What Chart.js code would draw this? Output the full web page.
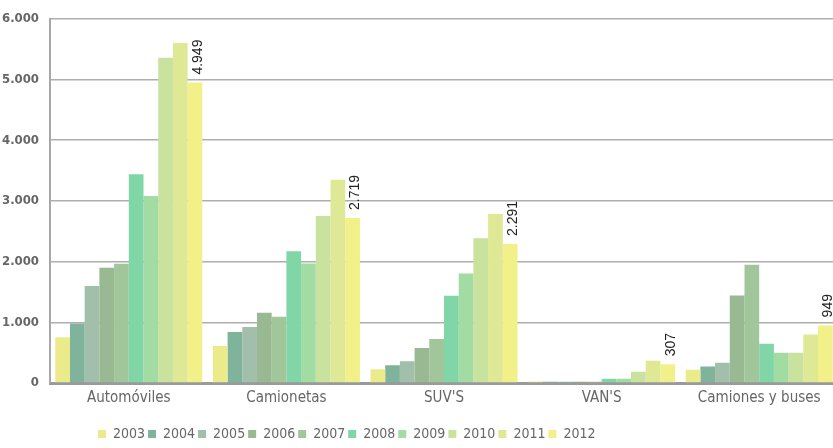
<!DOCTYPE html>
<html>
<head>
<meta charset="utf-8">
<script src="https://cdn.jsdelivr.net/npm/chart.js@4.4.1/dist/chart.umd.min.js"></script>
<style>
  html, body { margin: 0; padding: 0; background: #fff; overflow: hidden; }
  #wrap { width: 842px; height: 448px; }
</style>
</head>
<body>
<div id="wrap"><canvas id="grafico" width="842" height="448"></canvas></div>
<script>
// categorias y años
var categorias = ["Automóviles", "Camionetas", "SUV'S", "VAN'S", "Camiones y buses"];
var anios = ["2003", "2004", "2005", "2006", "2007", "2008", "2009", "2010", "2011", "2012"];

// valores por año (Automóviles, Camionetas, SUV'S, VAN'S, Camiones y buses)
var v2003 = [753, 610, 227, 25, 220];
var v2004 = [982, 841, 293, 20, 270];
var v2005 = [1600, 924, 360, 20, 335];
var v2006 = [1898, 1157, 576, 20, 1440];
var v2007 = [1964, 1090, 725, 20, 1950];
var v2008 = [3440, 2169, 1439, 70, 648];
var v2009 = [3080, 1970, 1804, 70, 500];
var v2010 = [5360, 2750, 2385, 187, 500];
var v2011 = [5600, 3348, 2784, 368, 797];
var v2012 = [4949, 2719, 2291, 307, 949];

var colores = ["#ebeb8c", "#7fb39b", "#a1bfab", "#98b991", "#a0c69a",
               "#80d6a6", "#a2dca3", "#c9e39f", "#dee895", "#f2f088"];

var fuenteEje = "'Liberation Sans Narrow', 'DejaVu Sans Condensed', 'Roboto', sans-serif";

var valores = [v2003, v2004, v2005, v2006, v2007, v2008, v2009, v2010, v2011, v2012];

function miles(n) {
    return String(n).replace(/\B(?=(\d{3})+(?!\d))/g, ".");
}

var datasets = [];
for (let i = 0; i < anios.length; i++) {
    datasets.push({
        label: anios[i],
        data: valores[i],
        backgroundColor: colores[i],
        borderWidth: 0,
        barPercentage: 1,
        categoryPercentage: 0.933
    });
}

// etiqueta vertical encima de las barras del ultimo año
const etiquetas = {
    id: 'etiquetas',
    afterDatasetsDraw(chart) {
        const c = chart.ctx;
        const ultimo = chart.data.datasets.length - 1;
        const meta = chart.getDatasetMeta(ultimo);
        c.save();
        c.fillStyle = "#222";
        c.font = "14px 'Liberation Sans', Arial, sans-serif";
        c.textAlign = "left";
        c.textBaseline = "middle";
        meta.data.forEach(function (bar, k) {
            c.save();
            c.translate(bar.x + 3, bar.y - 8);
            c.rotate(-Math.PI / 2);
            c.fillText(miles(chart.data.datasets[ultimo].data[k]), 0, 0);
            c.restore();
        });
        c.restore();
    }
};

// mueve la leyenda como en el original
const moverLeyenda = {
    id: 'moverLeyenda',
    afterLayout(chart) {
        chart.legend.left = 95;
        chart.legend.top += 3;
    }
};

const ctx = document.getElementById('grafico');
new Chart(ctx, {
    type: 'bar',
    data: {
        labels: categorias,
        datasets: datasets
    },
    plugins: [etiquetas, moverLeyenda],
    options: {
        responsive: false,
        animation: false,
        layout: { padding: { top: 17, right: 4, left: 0, bottom: 0 } },
        plugins: {
            title: { display: false },
            tooltip: { enabled: false },
            legend: {
                position: 'bottom',
                align: 'start',
                labels: {
                    boxWidth: 8,
                    boxHeight: 8,
                    padding: 3,
                    color: "#666",
                    font: { family: fuenteEje, size: 14 }
                }
            }
        },
        scales: {
            x: {
                grid: { display: false, drawTicks: false },
                border: { display: true, color: "#9a9a9a", width: 3 },
                ticks: {
                    color: "#666",
                    padding: 6,
                    font: { family: fuenteEje, size: 15 }
                },
                afterFit: function (s) { s.height = 38; }
            },
            y: {
                min: 0,
                max: 6000,
                z: 1,
                afterFit: function (s) { s.width = 50; },
                grid: { color: "rgba(120,120,120,0.6)", lineWidth: 1.5, drawTicks: false },
                border: { display: true, color: "#a8a8a8", width: 2 },
                ticks: {
                    stepSize: 1000,
                    padding: 11,
                    color: "#666",
                    font: { family: fuenteEje, size: 13, weight: 'bold' },
                    callback: function (v) { return miles(v); }
                }
            }
        }
    }
});
</script>
</body>
</html>
